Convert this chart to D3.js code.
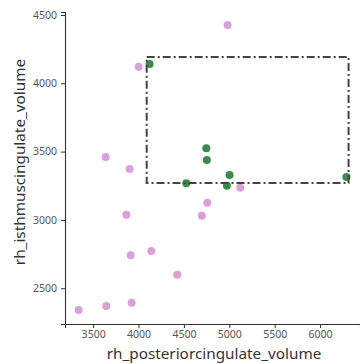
<!DOCTYPE html>
<html>
<head>
<meta charset="utf-8">
<script src="https://cdn.jsdelivr.net/npm/d3@7"></script>
<style>
  html, body { margin: 0; padding: 0; background: #fff; }
  svg { display: block; }
</style>
</head>
<body>
<svg id="chart" width="360" height="364"></svg>
<script>
// ---- data ----
const pinkX = [4981, 4001, 3638, 3902, 3866, 3913, 4141, 4427, 3340, 3645, 3924, 5121, 4758, 4698];
const pinkY = [4427, 4122, 3460, 3373, 3038, 2741, 2772, 2599, 2340, 2370, 2394, 3236, 3126, 3031];
const greenX = [4122, 4747, 4753, 5003, 4974, 4526, 6290];
const greenY = [4141, 3524, 3439, 3329, 3250, 3268, 3314];
const boxX = [4090, 6314];
const boxY = [3270, 4193];
const xTicks = [3500, 4000, 4500, 5000, 5500, 6000];
const yTicks = [2500, 3000, 3500, 4000, 4500];
const xLabel = "rh_posteriorcingulate_volume";
const yLabel = "rh_isthmuscingulate_volume";

const svg = d3.select("#chart");
const mLeft = 65, mRight = 360, mTop = 12, mBottom = 324;

const x = d3.scaleLinear().domain([3190, 6440]).range([mLeft, mRight]);
const y = d3.scaleLinear().domain([2238, 4522]).range([mBottom, mTop]);

const font = "'Noto Sans', 'Open Sans', sans-serif";

// axes
const gx = svg.append("g").attr("transform", `translate(0,${mBottom})`)
  .call(d3.axisBottom(x).tickValues(xTicks).tickSize(4).tickPadding(3).tickFormat(d3.format("d")));
const gy = svg.append("g").attr("transform", `translate(${mLeft},0)`)
  .call(d3.axisLeft(y).tickValues(yTicks).tickSize(4).tickPadding(4).tickFormat(d3.format("d")));
[gx, gy].forEach(g => {
  g.select(".domain").attr("stroke", "#333").attr("stroke-width", 1.1);
  g.selectAll(".tick line").attr("stroke", "#333");
  g.selectAll(".tick text").attr("fill", "#555").style("font-family", font).style("font-size", "10.5px");
});

// points
svg.append("g").selectAll("circle").data(pinkX.map((v, i) => [v, pinkY[i]]))
  .join("circle")
  .attr("cx", d => x(d[0])).attr("cy", d => y(d[1])).attr("r", 4)
  .attr("fill", "#dd9fd9");
svg.append("g").selectAll("circle").data(greenX.map((v, i) => [v, greenY[i]]))
  .join("circle")
  .attr("cx", d => x(d[0])).attr("cy", d => y(d[1])).attr("r", 4)
  .attr("fill", "#3b8a4e");

// dash-dot rectangle
svg.append("rect")
  .attr("x", x(boxX[0])).attr("y", y(boxY[1]))
  .attr("width", x(boxX[1]) - x(boxX[0]))
  .attr("height", y(boxY[0]) - y(boxY[1]))
  .attr("fill", "none").attr("stroke", "#444").attr("stroke-width", 2)
  .attr("stroke-dasharray", "8,3,2,3");

// labels
svg.append("text").attr("x", 214).attr("y", 359)
  .attr("text-anchor", "middle").attr("fill", "#333")
  .style("font-family", font).style("font-size", "15.3px").text(xLabel);
svg.append("text").attr("transform", `translate(25,162) rotate(-90)`)
  .attr("text-anchor", "middle").attr("fill", "#333")
  .style("font-family", font).style("font-size", "15.3px").text(yLabel);
</script>
</body>
</html>
